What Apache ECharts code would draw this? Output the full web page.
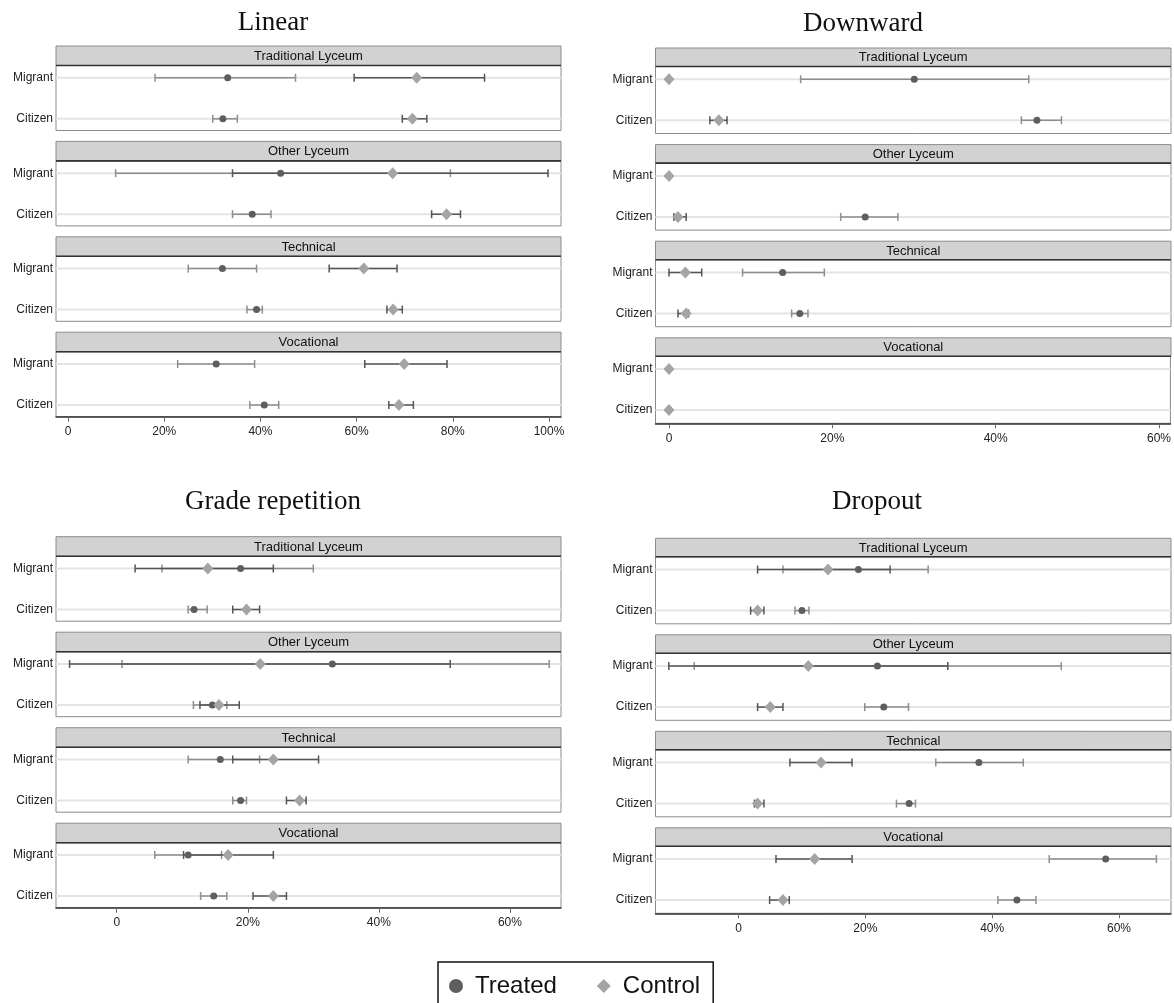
<!DOCTYPE html>
<html>
<head>
<meta charset="utf-8">
<script src="https://cdn.jsdelivr.net/npm/echarts@6/dist/echarts.min.js"></script>
<style>html,body{margin:0;padding:0;background:#fff}#chart{width:1174px;height:1003px}</style>
</head>
<body>
<div id="chart"></div>
<script>
// ---------------- DATA ----------------
const schoolTypes = ['Traditional Lyceum', 'Other Lyceum', 'Technical', 'Vocational'];
const rowLabels = ['Citizen', 'Migrant']; // y value 0 = Citizen, 1 = Migrant
const seriesNames = ['Treated', 'Control'];
const linearTicks = [0, 20, 40, 60, 80, 100];
const pctTicks = [0, 20, 40, 60];

// order of 8 entries: TL-Migrant, TL-Citizen, OL-Migrant, OL-Citizen, Tech-Migrant, Tech-Citizen, Voc-Migrant, Voc-Citizen
const linearTreated   = [33.2, 32.2, 44.2, 38.3, 32.1, 39.2, 30.8, 40.8];
const linearTreatedLo = [18.1, 30.1,  9.9, 34.2, 25.0, 37.2, 22.8, 37.8];
const linearTreatedHi = [47.3, 35.2, 79.5, 42.2, 39.2, 40.4, 38.8, 43.8];
const linearControl   = [72.5, 71.6, 67.5, 78.7, 61.5, 67.6, 69.9, 68.8];
const linearControlLo = [59.5, 69.5, 34.2, 75.6, 54.3, 66.3, 61.7, 66.7];
const linearControlHi = [86.6, 74.6, 99.8, 81.6, 68.4, 69.5, 78.8, 71.8];

const downTreated   = [30.0, 45.0, null, 24.0, 13.9, 16.0, null, null];
const downTreatedLo = [16.1, 43.1, null, 21.0,  9.0, 15.0, null, null];
const downTreatedHi = [44.0, 48.0, null, 28.0, 19.0, 17.0, null, null];
const downControl   = [0, 6.1, 0, 1.1, 2.0, 2.1, 0, 0];
const downControlLo = [0, 5.0, 0, 0.6, 0.0, 1.1, 0, 0];
const downControlHi = [0, 7.1, 0, 2.1, 4.0, 2.4, 0, 0];

const gradeTreated   = [18.9, 11.8, 32.9, 14.6, 15.8, 18.9, 10.9, 14.8];
const gradeTreatedLo = [ 6.9, 10.9,  0.8, 11.7, 10.9, 17.7,  5.8, 12.8];
const gradeTreatedHi = [30.0, 13.8, 66.0, 16.8, 21.8, 19.8, 16.0, 16.8];
const gradeControl   = [13.9, 19.8, 21.9, 15.6, 23.9, 27.9, 17.0, 23.9];
const gradeControlLo = [ 2.8, 17.7, -7.2, 12.7, 17.7, 25.9, 10.2, 20.8];
const gradeControlHi = [23.9, 21.8, 50.9, 18.7, 30.8, 28.9, 23.9, 25.9];

const dropTreated   = [18.9, 10.0, 21.9, 22.9, 37.9, 26.9, 57.9, 43.9];
const dropTreatedLo = [ 7.0,  8.9, -7.0, 19.9, 31.1, 24.9, 49.0, 40.9];
const dropTreatedHi = [29.9, 11.1, 50.9, 26.8, 44.9, 27.9, 65.9, 46.9];
const dropControl   = [14.1,  3.0, 11.0,  5.0, 13.0,  3.0, 12.0,  7.0];
const dropControlLo = [ 3.0,  1.9, -11.0, 3.0,  8.1,  2.5,  5.9,  4.9];
const dropControlHi = [23.9,  4.0, 33.0,  7.0, 17.9,  4.0, 17.9,  8.0];

// ---------------- LAYOUT / STYLE ----------------
const LEFT  = {x0: 56,    x1: 561,  stripH: 19.5, gridH: 65, yMin: -0.285, yMax: 1.30};
const RIGHT = {x0: 655.5, x1: 1171, stripH: 18.5, gridH: 67, yMin: -0.322, yMax: 1.312};

const panels = [
  {title: 'Linear', col: LEFT, top0: 46, pitch: 95.4, tx: 273, ty: 23, xMin: -2.5, xMax: 102.5, ticks: linearTicks,
   t: [linearTreated, linearTreatedLo, linearTreatedHi], c: [linearControl, linearControlLo, linearControlHi]},
  {title: 'Downward', col: RIGHT, top0: 48, pitch: 96.6, tx: 863, ty: 24, xMin: -1.65, xMax: 61.4, ticks: pctTicks,
   t: [downTreated, downTreatedLo, downTreatedHi], c: [downControl, downControlLo, downControlHi]},
  {title: 'Grade repetition', col: LEFT, top0: 536.7, pitch: 95.5, tx: 273, ty: 502, xMin: -9.27, xMax: 67.8, ticks: pctTicks,
   t: [gradeTreated, gradeTreatedLo, gradeTreatedHi], c: [gradeControl, gradeControlLo, gradeControlHi]},
  {title: 'Dropout', col: RIGHT, top0: 538.3, pitch: 96.5, tx: 877, ty: 502, xMin: -13.1, xMax: 68.2, ticks: pctTicks,
   t: [dropTreated, dropTreatedLo, dropTreatedHi], c: [dropControl, dropControlLo, dropControlHi]}
];

const TREATED_MARK = '#5e5e5e', TREATED_CI = '#8e8e8e';
const CONTROL_MARK = '#a4a4a4', CONTROL_CI = '#555555';
const SANS = '"Liberation Sans", Arial, sans-serif';

function ciRenderer(color) {
  return function (params, api) {
    const lo = api.value(0), hi = api.value(1), y = api.value(2);
    const a = api.coord([lo, y]), b = api.coord([hi, y]);
    const h = 4;
    const st = {stroke: color, lineWidth: 1.5};
    return {type: 'group', children: [
      {type: 'line', shape: {x1: a[0], y1: a[1], x2: b[0], y2: b[1]}, style: st},
      {type: 'line', shape: {x1: a[0], y1: a[1] - h, x2: a[0], y2: a[1] + h}, style: st},
      {type: 'line', shape: {x1: b[0], y1: b[1] - h, x2: b[0], y2: b[1] + h}, style: st}
    ]};
  };
}

function rowLineRenderer(params, api) {
  const cs = params.coordSys;
  const y = api.coord([0, api.value(0)])[1];
  return {type: 'line', shape: {x1: cs.x, y1: y, x2: cs.x + cs.width, y2: y},
    style: {stroke: '#e4e4e4', lineWidth: 2}};
}

const grids = [], xAxes = [], yAxes = [], series = [], graphics = [];

panels.forEach(p => {
  const L = p.col;
  graphics.push({type: 'text', z: 100, style: {text: p.title, x: p.tx, y: p.ty,
    font: '27px "Liberation Serif", "DejaVu Serif", serif', textAlign: 'center', textVerticalAlign: 'middle', fill: '#111'}});
  schoolTypes.forEach((st, k) => {
    const gi = grids.length;
    const stripTop = p.top0 + k * p.pitch;
    const gridTop = stripTop + L.stripH;
    const isBottom = k === schoolTypes.length - 1;
    grids.push({left: L.x0, top: gridTop, width: L.x1 - L.x0, height: L.gridH, show: true,
      borderColor: '#8c8c8c', borderWidth: 1, backgroundColor: '#fff'});
    xAxes.push({gridIndex: gi, type: 'value', min: p.xMin, max: p.xMax,
      splitLine: {show: false},
      axisLine: {show: isBottom, onZero: false, lineStyle: {color: '#333', width: 1.5}},
      axisTick: {show: isBottom, length: 5, customValues: p.ticks, lineStyle: {color: '#666'}},
      axisLabel: {show: isBottom, customValues: p.ticks, margin: 9, fontSize: 12, fontFamily: SANS, color: '#222',
        formatter: v => (v === 0 ? '0' : v + '%')}
    });
    yAxes.push({gridIndex: gi, type: 'value', min: L.yMin, max: L.yMax,
      splitLine: {show: false}, axisLine: {show: false}, axisTick: {show: false},
      axisLabel: {show: true, customValues: [0, 1], margin: 3, fontSize: 12, fontFamily: SANS, color: '#222',
        formatter: v => rowLabels[Math.round(v)] || ''}
    });
    // strip header
    graphics.push({type: 'rect', z: 100, shape: {x: L.x0, y: stripTop, width: L.x1 - L.x0, height: L.stripH},
      style: {fill: '#d2d2d2', stroke: '#8c8c8c', lineWidth: 1}});
    graphics.push({type: 'line', z: 101, shape: {x1: L.x0, y1: gridTop, x2: L.x1, y2: gridTop},
      style: {stroke: '#333', lineWidth: 1.6}});
    graphics.push({type: 'text', z: 102, style: {text: st, x: (L.x0 + L.x1) / 2, y: stripTop + L.stripH / 2 + 0.5,
      font: '13px ' + SANS, textAlign: 'center', textVerticalAlign: 'middle', fill: '#111'}});

    // row reference lines (one per row category)
    series.push({type: 'custom', name: 'rows', xAxisIndex: gi, yAxisIndex: gi, z: 1, silent: true,
      renderItem: rowLineRenderer, encode: {y: 0}, data: [[1], [0]]});

    const rowsIdx = [[2 * k, 1], [2 * k + 1, 0]];
    const ciData = (arr) => rowsIdx.filter(([i]) => arr[0][i] !== null).map(([i, y]) => [arr[1][i], arr[2][i], y]);
    const ptData = (arr) => rowsIdx.filter(([i]) => arr[0][i] !== null).map(([i, y]) => [arr[0][i], y]);

    series.push({type: 'custom', name: 'Treated CI', xAxisIndex: gi, yAxisIndex: gi, z: 2, silent: true,
      renderItem: ciRenderer(TREATED_CI), encode: {x: [0, 1], y: 2}, data: ciData(p.t)});
    series.push({type: 'custom', name: 'Control CI', xAxisIndex: gi, yAxisIndex: gi, z: 3, silent: true,
      renderItem: ciRenderer(CONTROL_CI), encode: {x: [0, 1], y: 2}, data: ciData(p.c)});
    series.push({type: 'scatter', name: seriesNames[0], xAxisIndex: gi, yAxisIndex: gi, z: 4,
      symbol: 'circle', symbolSize: 7, itemStyle: {color: TREATED_MARK, opacity: 1}, data: ptData(p.t)});
    series.push({type: 'scatter', name: seriesNames[1], xAxisIndex: gi, yAxisIndex: gi, z: 5,
      symbol: 'diamond', symbolSize: [11, 12], itemStyle: {color: CONTROL_MARK, opacity: 1}, data: ptData(p.c)});
  });
});

const chart = echarts.init(document.getElementById('chart'), null, {renderer: 'canvas'});
chart.setOption({
  backgroundColor: '#fff',
  animation: false,
  grid: grids,
  xAxis: xAxes,
  yAxis: yAxes,
  series: series,
  graphic: {elements: graphics},
  legend: {
    left: 438, top: 962, orient: 'horizontal',
    data: [{name: 'Treated', icon: 'circle'}, {name: 'Control', icon: 'diamond'}],
    itemWidth: 14, itemHeight: 14, itemGap: 40,
    borderColor: '#111', borderWidth: 1.5, padding: [12, 13, 20, 11], borderRadius: 0,
    backgroundColor: '#fff',
    textStyle: {fontSize: 24, fontFamily: SANS, color: '#111', padding: [0, 0, 0, 7]},
    selectedMode: false
  }
});
</script>
</body>
</html>
